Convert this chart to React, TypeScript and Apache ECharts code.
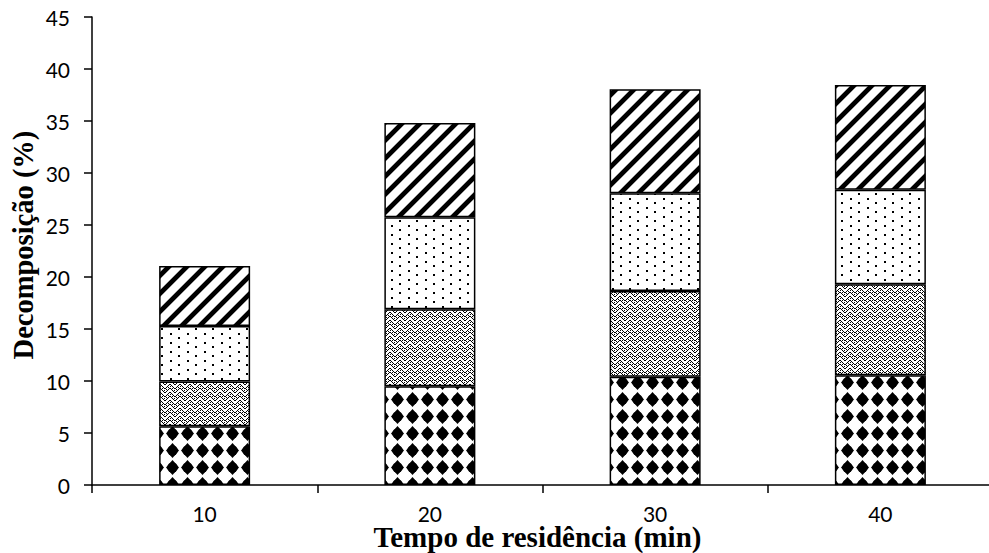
import React, { useEffect, useRef } from "react";
import * as echarts from "echarts";

const categories = ["10", "20", "30", "40"];
const seriesA = [5.65, 9.5, 10.4, 10.55];
const seriesB = [4.3, 7.4, 8.25, 8.75];
const seriesC = [5.35, 8.85, 9.4, 9.1];
const seriesD = [5.75, 9.05, 10.0, 10.05];
const yMin = 0;
const yMax = 45;
const yInterval = 5;

type Painter = (ctx: CanvasRenderingContext2D, w: number, h: number) => void;

function makeTile(w: number, h: number, paint: Painter) {
  const c = document.createElement("canvas");
  c.width = w;
  c.height = h;
  const ctx = c.getContext("2d")!;
  ctx.fillStyle = "#fff";
  ctx.fillRect(0, 0, w, h);
  paint(ctx, w, h);
  return { image: c, repeat: "repeat", imageWidth: w, imageHeight: h } as any;
}

function diamondTile() {
  return makeTile(15, 17, (ctx) => {
    ctx.fillStyle = "#000";
    ctx.beginPath();
    ctx.moveTo(7.5, 1);
    ctx.lineTo(14, 8.5);
    ctx.lineTo(7.5, 16);
    ctx.lineTo(1, 8.5);
    ctx.closePath();
    ctx.fill();
    ctx.beginPath();
    ctx.arc(7.5, 8.5, 5.2, 0, Math.PI * 2);
    ctx.fill();
  });
}

function weaveTile() {
  return makeTile(10, 8, (ctx) => {
    ctx.fillStyle = "#000";
    for (let x = 0; x < 10; x++) {
      const yA = x < 5 ? x : 9 - x;
      ctx.fillRect(x, yA, 1, 1);
      ctx.fillRect(x, (yA + 4) % 8, 1, 1);
      if (x % 2 === 0) ctx.fillRect(x, (yA + 2) % 8, 1, 1);
    }
  });
}

function dotTile() {
  return makeTile(17, 9, (ctx) => {
    ctx.fillStyle = "#000";
    ctx.fillRect(0, 0, 2, 2);
    ctx.fillRect(8, 4, 2, 2);
  });
}

function stripeTile() {
  return makeTile(18, 18, (ctx) => {
    for (let x = 0; x < 18; x++) {
      for (let y = 0; y < 18; y++) {
        const s = (x + y) % 18;
        if (s <= 5) ctx.fillStyle = "#000";
        else if (s === 6 || s === 17) ctx.fillStyle = "#999";
        else continue;
        ctx.fillRect(x, y, 1, 1);
      }
    }
  });
}

export default function App() {
  const ref = useRef<HTMLDivElement>(null);
  useEffect(() => {
    if (!ref.current) return;
    const chart = echarts.init(ref.current, undefined, { renderer: "svg" });
    const nameBase = {
      fontFamily: "Liberation Serif",
      fontWeight: "bold",
      color: "#000",
    };
    const labelStyle = {
      fontFamily: "Lato",
      fontSize: 21,
      lineHeight: 16,
      color: "#000",
    };
    const lineStyle = { color: "#000", width: 1.5 };
    const mk = (name: string, data: number[], pattern: any) => ({
      name,
      type: "bar",
      stack: "total",
      barWidth: "40.4%",
      data,
      itemStyle: { color: pattern, borderColor: "#000", borderWidth: 1.5 },
    });
    chart.setOption({
      animation: false,
      backgroundColor: "#fff",
      grid: {
        left: 92,
        top: 17,
        width: 901,
        height: 468,
        containLabel: false,
        outerBoundsMode: "none",
      },
      xAxis: {
        type: "category",
        data: categories,
        name: "Tempo de residência (min)",
        nameLocation: "middle",
        nameGap: 41,
        nameMoveOverlap: false,
        nameTextStyle: {
          ...nameBase,
          fontSize: 29,
          lineHeight: 22,
          padding: [0, 10, 0, 0],
        },
        axisLine: { show: true, lineStyle },
        axisTick: { show: true, length: 8, lineStyle },
        axisLabel: { ...labelStyle, margin: 20 },
        splitLine: { show: false },
      },
      yAxis: {
        type: "value",
        min: yMin,
        max: yMax,
        interval: yInterval,
        name: "Decomposição (%)",
        nameLocation: "middle",
        nameGap: 54,
        nameMoveOverlap: false,
        nameTextStyle: {
          ...nameBase,
          fontSize: 28.5,
          padding: [0, 0, 0, 12],
        },
        axisLine: { show: true, lineStyle },
        axisTick: { show: true, length: 8, lineStyle },
        axisLabel: { ...labelStyle, margin: 22 },
        splitLine: { show: false },
      },
      series: [
        mk("A", seriesA, diamondTile()),
        mk("B", seriesB, weaveTile()),
        mk("C", seriesC, dotTile()),
        mk("D", seriesD, stripeTile()),
      ],
    });
    return () => chart.dispose();
  }, []);
  return (
    <div
      ref={ref}
      style={{ position: "fixed", left: 0, top: 0, width: 989, height: 553 }}
    />
  );
}
